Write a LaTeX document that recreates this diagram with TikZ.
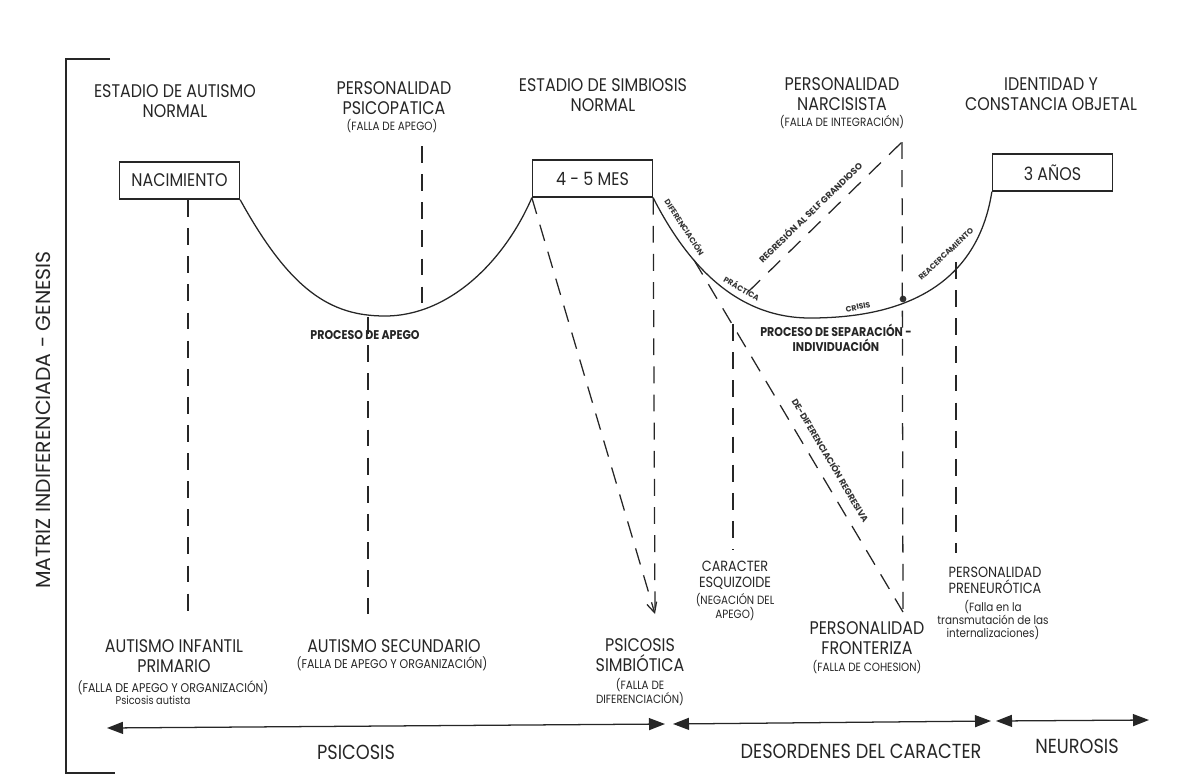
\documentclass[tikz,border=0pt]{standalone}
\usepackage{fontspec}
\setmainfont{Poppins}[FakeStretch=0.87]
\newfontfamily\rotfont{Poppins}
\usetikzlibrary{arrows.meta}
\begin{document}
\begin{tikzpicture}[x=0.025cm, y=-0.025cm,
    ink/.style={draw=black!85, line width=0.9pt},
    dashline/.style={ink, dash pattern=on 12pt off 8pt},
    titlelbl/.style={align=center, font=\fontsize{13}{14.5}\selectfont, text=black!85, inner sep=0pt},
    midlbl/.style={align=center, font=\fontsize{10.5}{11.5}\selectfont, text=black!85, inner sep=0pt},
    sublbl/.style={align=center, font=\fontsize{8.5}{9.5}\selectfont, text=black!85, inner sep=0pt},
    proclbl/.style={align=center, font=\fontsize{9}{10.5}\selectfont\bfseries, text=black!85, inner sep=0pt},
    tinylbl/.style={font=\rotfont\fontsize{5.5}{6.5}\selectfont\bfseries, text=black!80, inner sep=0pt},
    stage/.style={draw=black!85, line width=0.9pt, minimum width=3cm, minimum height=0.93cm,
                  inner sep=0pt, font=\fontsize{13}{15}\selectfont, text=black!85},
    spanarrow/.style={ink, {Triangle[length=4mm,width=3mm]}-{Triangle[length=4mm,width=3mm]}},
    >={Straight Barb[length=2.5mm,width=2.5mm]}
  ]
  \useasboundingbox (0,0) rectangle (1177,783);

  \draw[line width=1.3pt, black!85] (110,59) -- (66,59) -- (66,773) -- (115,773);
  \node[rotate=90, font=\rotfont\fontsize{14.5}{16}\selectfont, text=black!85] (matriz) at (43,420) {MATRIZ INDIFERENCIADA - GENESIS};

  \node[titlelbl] (autn) at (175,101) {ESTADIO DE AUTISMO\\NORMAL};
  \node[titlelbl] (psic) at (394,98) {PERSONALIDAD\\PSICOPATICA};
  \node[sublbl] (psicf) at (392,126) {(FALLA DE APEGO)};
  \node[titlelbl] (simb) at (603,95) {ESTADIO DE SIMBIOSIS\\NORMAL};
  \node[titlelbl] (narc) at (842,94) {PERSONALIDAD\\NARCISISTA};
  \node[sublbl] (narcf) at (842,122) {(FALLA DE INTEGRACIÓN)};
  \node[titlelbl] (iden) at (1051,94) {IDENTIDAD Y\\CONSTANCIA OBJETAL};

  \node[stage] (nac) at (179.5,180.5) {NACIMIENTO};
  \node[stage] (mes) at (592.5,178.5) {4 - 5 MES};
  \node[stage] (anos) at (1052.5,172.5) {3 AÑOS};

  \draw[ink] (nac.south east) .. controls (290,290) and (330,316) .. (385,316)
    .. controls (450,316) and (505,260) .. (mes.south west);
  \draw[ink] (mes.south east) .. controls (690,270) and (740,318) .. (810,318)
    .. controls (880,318) and (975,300) .. (anos.south west);

  \coordinate (crisis) at (903,299);
  \fill[black!80] (crisis) circle (2.4pt);

  \node[proclbl] (apego) at (365,335) {PROCESO DE APEGO};
  \node[proclbl] (sepind) at (836,338) {PROCESO DE SEPARACIÓN -\\INDIVIDUACIÓN};
  \node[tinylbl, rotate=-57] (dif) at (685,227) {DIFERENCIACIÓN};
  \node[tinylbl, rotate=-30] (prac) at (742,288) {PRÁCTICA};
  \node[tinylbl, rotate=12] (cri) at (858,307) {CRISIS};
  \node[tinylbl, rotate=43] (reac) at (946,254) {REACERCAMIENTO};

  \coordinate (aut1) at (188,614);
  \coordinate (aut2t) at (368,317);
  \coordinate (aut2) at (368,614);
  \coordinate (psict) at (422,146);
  \coordinate (psicb) at (422,304);
  \coordinate (simbt) at (655,614);
  \coordinate (dift) at (694,260);
  \coordinate (esqt) at (733,324);
  \coordinate (esqb) at (733,550);
  \coordinate (regb) at (748,292);
  \coordinate (regt) at (902,142);
  \coordinate (fron) at (903,612);
  \coordinate (reat) at (956,262);
  \coordinate (preb) at (956,553);

  \draw[dashline] (188,200) -- (aut1);
  \draw[dashline] (aut2t) -- (aut2);
  \draw[dashline] (psict) -- (psicb);
  \draw[dashline, ->] (mes.south west) -- (simbt);
  \draw[dashline] (mes.south east) -- (simbt);
  \draw[dashline] (dift) -- (fron);
  \draw[dashline] (esqt) -- (esqb);
  \draw[dashline] (regb) -- (regt);
  \draw[dashline] (regt) -- (fron);
  \draw[dashline] (reat) -- (preb);

  \node[tinylbl, font=\rotfont\fontsize{6.3}{7}\selectfont\bfseries, rotate=44] (regl) at (810,212) {REGRESIÓN AL SELF GRANDIOSO};
  \node[tinylbl, font=\rotfont\fontsize{6.3}{7}\selectfont\bfseries, rotate=-59.5] (dedl) at (831,460) {DE-DIFERENCIACIÓN REGRESIVA};

  \node[titlelbl] (aip) at (174,656) {AUTISMO INFANTIL\\PRIMARIO};
  \node[sublbl, font=\fontsize{9}{10}\selectfont] (aipf) at (173,688) {(FALLA DE APEGO Y ORGANIZACIÓN)};
  \node[sublbl, font=\fontsize{8}{9}\selectfont] (aipn) at (153,700) {Psicosis autista};
  \node[titlelbl] (asec) at (394,646) {AUTISMO SECUNDARIO};
  \node[sublbl, font=\fontsize{9}{10}\selectfont] (asecf) at (392,664) {(FALLA DE APEGO Y ORGANIZACIÓN)};
  \node[titlelbl] (psim) at (640,655) {PSICOSIS\\SIMBIÓTICA};
  \node[sublbl] (psimf) at (640,692) {(FALLA DE\\DIFERENCIACIÓN)};
  \node[midlbl] (esq) at (735,575) {CARACTER\\ESQUIZOIDE};
  \node[sublbl] (esqf) at (735,607) {(NEGACIÓN DEL\\APEGO)};
  \node[titlelbl] (pfro) at (867,638) {PERSONALIDAD\\FRONTERIZA};
  \node[sublbl] (pfrof) at (867,667) {(FALLA DE COHESION)};
  \node[midlbl] (ppre) at (995,580) {PERSONALIDAD\\PRENEURÓTICA};
  \node[sublbl] (ppref) at (993,620) {(Falla en la\\transmutación de las\\internalizaciones)};

  \coordinate (r1l) at (107,728);
  \coordinate (r1r) at (665,724);
  \coordinate (r2l) at (673,724);
  \coordinate (r2r) at (991,721);
  \coordinate (r3l) at (996,721);
  \coordinate (r3r) at (1149,720);
  \draw[spanarrow] (r1l) -- (r1r);
  \draw[spanarrow] (r2l) -- (r2r);
  \draw[spanarrow] (r3l) -- (r3r);

  \node[font=\fontsize{14.5}{16}\selectfont, text=black!85] (psicosis) at (356,752) {PSICOSIS};
  \node[font=\fontsize{14.5}{16}\selectfont, text=black!85] (desord) at (861,751) {DESORDENES DEL CARACTER};
  \node[font=\fontsize{14.5}{16}\selectfont, text=black!85] (neur) at (1077,746) {NEUROSIS};
\end{tikzpicture}
\end{document}
